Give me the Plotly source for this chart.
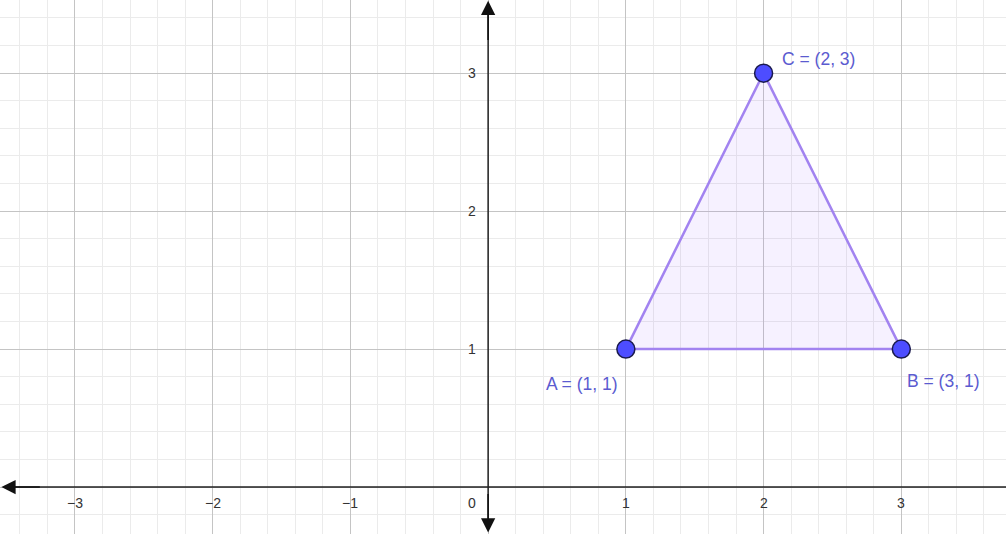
import plotly.graph_objects as go

# data
point_names = ["A", "B", "C"]
point_x = [1, 3, 2]
point_y = [1, 1, 3]
x_tick_vals = [-3, -2, -1, 1, 2, 3]
y_tick_vals = [1, 2, 3]

X_RANGE = [-3.544, 3.76]
Y_RANGE = [-0.34, 3.53]

fig = go.Figure()

# triangle
fig.add_trace(go.Scatter(
    x=point_x + [point_x[0]], y=point_y + [point_y[0]],
    mode="lines", fill="toself",
    fillcolor="rgba(153,102,255,0.09)",
    line=dict(color="#a283f0", width=2.5),
    hoverinfo="skip", showlegend=False))

# points
fig.add_trace(go.Scatter(
    x=point_x, y=point_y, mode="markers",
    marker=dict(size=18, color="#4d4dff", line=dict(color="#1a1a4d", width=1.5)),
    hoverinfo="skip", showlegend=False))

# point labels
label_pos = {"A": ("right", 0.96, 0.75), "B": ("left", 3.03, 0.77), "C": ("left", 2.12, 3.10)}
for n, px, py in zip(point_names, point_x, point_y):
    align, lx, ly = label_pos[n]
    fig.add_annotation(x=lx, y=ly, text=f"{n} = ({px}, {py})", showarrow=False,
                       xanchor=align, yanchor="middle",
                       font=dict(family="Liberation Sans, Arial, sans-serif", size=17.5, color="#5b5bd0"))

# axes lines
fig.add_shape(type="line", x0=X_RANGE[0] + 0.05, x1=X_RANGE[1], y0=0, y1=0,
              line=dict(color="#222222", width=1.5), layer="above")
fig.add_shape(type="line", x0=0, x1=0, y0=Y_RANGE[0] + 0.05, y1=Y_RANGE[1] - 0.05,
              line=dict(color="#222222", width=1.5), layer="above")

# arrowheads
arrow_common = dict(showarrow=True, arrowhead=2, arrowsize=1.9, arrowwidth=1.5,
                    arrowcolor="#111111", axref="x", ayref="y", text="")
fig.add_annotation(x=X_RANGE[0] + 0.01, y=0, ax=X_RANGE[0] + 0.3, ay=0, **arrow_common)
fig.add_annotation(x=0, y=Y_RANGE[1] - 0.005, ax=0, ay=Y_RANGE[1] - 0.3, **arrow_common)
fig.add_annotation(x=0, y=Y_RANGE[0] + 0.01, ax=0, ay=Y_RANGE[0] + 0.3, **arrow_common)

tick_font = dict(family="Liberation Sans, Arial, sans-serif", size=14, color="#333333")
for v in x_tick_vals:
    fig.add_annotation(x=v, y=-0.116, text=str(v).replace("-", "\u2212"), showarrow=False,
                       xanchor="center", yanchor="middle", font=tick_font)
for v in y_tick_vals:
    fig.add_annotation(x=-0.07, y=v, text=str(v), showarrow=False,
                       xanchor="right", yanchor="middle", font=tick_font)
fig.add_annotation(x=-0.07, y=-0.116, text="0", showarrow=False,
                   xanchor="right", yanchor="middle", font=tick_font)

axis_common = dict(showgrid=True, gridcolor="#c4c4c4", gridwidth=1,
                   dtick=1, tick0=0, zeroline=False, showticklabels=False,
                   ticks="", showline=False, fixedrange=True,
                   minor=dict(dtick=0.2, tick0=0, showgrid=True, gridcolor="#ebebeb", gridwidth=1))

fig.update_layout(
    width=1006, height=534,
    margin=dict(l=0, r=0, t=0, b=0),
    paper_bgcolor="white", plot_bgcolor="white",
    xaxis=dict(range=X_RANGE, **axis_common),
    yaxis=dict(range=Y_RANGE, **axis_common),
    showlegend=False,
)

fig.write_html("out.html", config={"displayModeBar": False},
               post_script="document.body.style.margin='0';document.body.style.overflow='hidden';")
